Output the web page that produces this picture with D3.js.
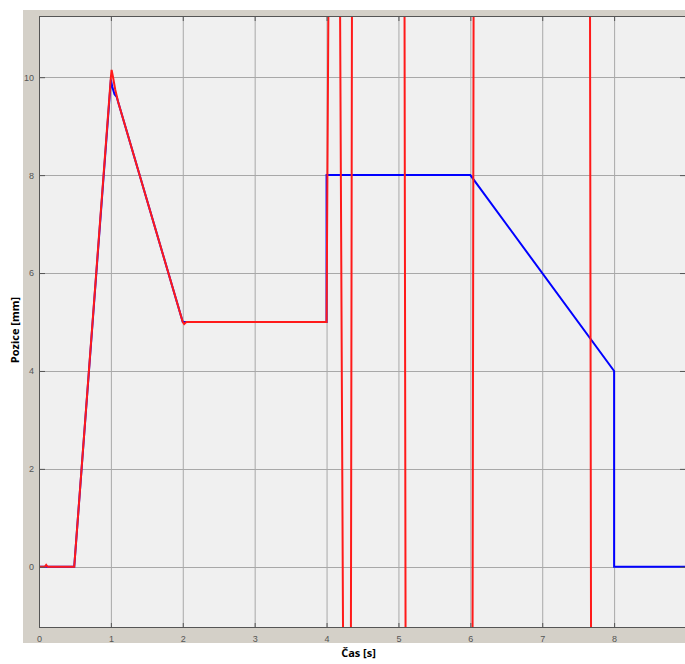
<!DOCTYPE html>
<html>
<head>
<meta charset="utf-8">
<script src="https://cdn.jsdelivr.net/npm/d3@7"></script>
<style>
  body { margin: 0; background: #fff; }
  svg { display: block; }
</style>
</head>
<body>
<div id="chart"></div>
<script>
// casove body a hodnoty (cteno z obrazku)
const blueTime  = [0, 0.49, 1.0, 1.02, 1.05, 1.08, 1.1, 2.0, 4.0, 4.0, 6.0, 8.0, 8.0, 9.0];
const blueValue = [0, 0, 9.95, 9.8, 9.65, 9.6, 9.5, 5.0, 5.0, 8.0, 8.0, 4.0, 0, 0];

const redTime  = [0, 0.08, 0.1, 0.12, 0.49, 1.0, 1.01, 1.03, 1.06, 1.1, 2.0, 2.02, 2.05, 4.0, 4.06, 4.16, 4.29, 4.318, 4.363, 5.075, 5.12, 6.01, 6.055, 7.655, 7.70, 9.0];
const redValue = [0, 0, 0.04, 0, 0, 10.0, 10.15, 10.0, 9.75, 9.5, 5.0, 4.96, 5.0, 5.0, 20, 20, -20, -20, 20, 20, -20, -20, 20, 20, -20, -20];

const xTicks = [0, 1, 2, 3, 4, 5, 6, 7, 8];
const yTicks = [0, 2, 4, 6, 8, 10];

const W = 685, H = 664;
const plot = { left: 39, top: 16, right: 686, bottom: 628 };

const svg = d3.select("#chart").append("svg")
    .attr("width", W)
    .attr("height", H)
    .style("font-family", "'Open Sans', 'DejaVu Sans', sans-serif");

// panel za osami
svg.append("rect")
    .attr("x", 23).attr("y", 10)
    .attr("width", W - 23).attr("height", 643 - 10)
    .attr("fill", "#d4d0c8");

const x = d3.scaleLinear().domain([0, 9]).range([plot.left, plot.right]);
const y = d3.scaleLinear().domain([-1.25, 11.25]).range([plot.bottom, plot.top]);

svg.append("rect")
    .attr("x", plot.left).attr("y", plot.top)
    .attr("width", plot.right - plot.left).attr("height", plot.bottom - plot.top)
    .attr("fill", "#f0f0f0");

// mrizka
svg.append("g").selectAll("line")
    .data(xTicks.slice(1))
    .enter().append("line")
    .attr("x1", d => x(d) + 0.5).attr("x2", d => x(d) + 0.5)
    .attr("y1", plot.top).attr("y2", plot.bottom)
    .attr("stroke", "#a8a8a8");

svg.append("g").selectAll("line")
    .data(yTicks)
    .enter().append("line")
    .attr("x1", plot.left).attr("x2", plot.right)
    .attr("y1", d => Math.round(y(d)) + 0.5).attr("y2", d => Math.round(y(d)) + 0.5)
    .attr("stroke", "#a8a8a8");

svg.append("clipPath").attr("id", "clip")
    .append("rect")
    .attr("x", plot.left).attr("y", plot.top)
    .attr("width", plot.right - plot.left).attr("height", plot.bottom - plot.top);

const line = d3.line()
    .x(d => x(d[0]))
    .y(d => y(d[1]));

const blueData = blueTime.map((t, i) => [t, blueValue[i]]);
const redData = redTime.map((t, i) => [t, redValue[i]]);

const lines = svg.append("g").attr("clip-path", "url(#clip)");
lines.append("path")
    .datum(blueData)
    .attr("d", line)
    .attr("fill", "none")
    .attr("stroke", "#0000ff")
    .attr("stroke-width", 2);
lines.append("path")
    .datum(redData)
    .attr("d", line)
    .attr("fill", "none")
    .attr("stroke", "#ff1a1a")
    .attr("stroke-width", 2);

// osy
const xAxisB = d3.axisBottom(x).tickValues(xTicks).tickSize(-5).tickPadding(8).tickFormat(d3.format("d"));
const xAxisT = d3.axisTop(x).tickValues(xTicks).tickSize(-5).tickFormat("");
const yAxisL = d3.axisLeft(y).tickValues(yTicks).tickSize(-6).tickPadding(5).tickFormat(d3.format("d"));
const yAxisR = d3.axisRight(y).tickValues(yTicks).tickSize(-6).tickFormat("");

function styleAxis(g) {
    g.select(".domain").remove();
    g.selectAll(".tick line").attr("stroke", "#555");
    g.selectAll(".tick text").attr("fill", "#555").attr("font-size", "9px");
}

svg.append("g").attr("transform", `translate(0,${plot.bottom})`).call(xAxisB).call(styleAxis);
svg.append("g").attr("transform", `translate(0,${plot.top})`).call(xAxisT).call(styleAxis);
svg.append("g").attr("transform", `translate(${plot.left},0)`).call(yAxisL).call(styleAxis);
svg.append("g").attr("transform", `translate(${plot.right},0)`).call(yAxisR).call(styleAxis);

svg.append("rect")
    .attr("x", plot.left + 0.5).attr("y", plot.top + 0.5)
    .attr("width", plot.right - plot.left - 1).attr("height", plot.bottom - plot.top - 1)
    .attr("fill", "none")
    .attr("stroke", "#555");

svg.append("text")
    .attr("x", (plot.left + plot.right) / 2 - 4)
    .attr("y", 657)
    .attr("text-anchor", "middle")
    .attr("font-size", "11px")
    .attr("font-weight", "bold")
    .text("Čas [s]");

svg.append("text")
    .attr("transform", `translate(19,${(plot.top + plot.bottom) / 2 + 8}) rotate(-90)`)
    .attr("text-anchor", "middle")
    .attr("font-size", "11px")
    .attr("font-weight", "bold")
    .text("Pozice [mm]");
</script>
</body>
</html>
